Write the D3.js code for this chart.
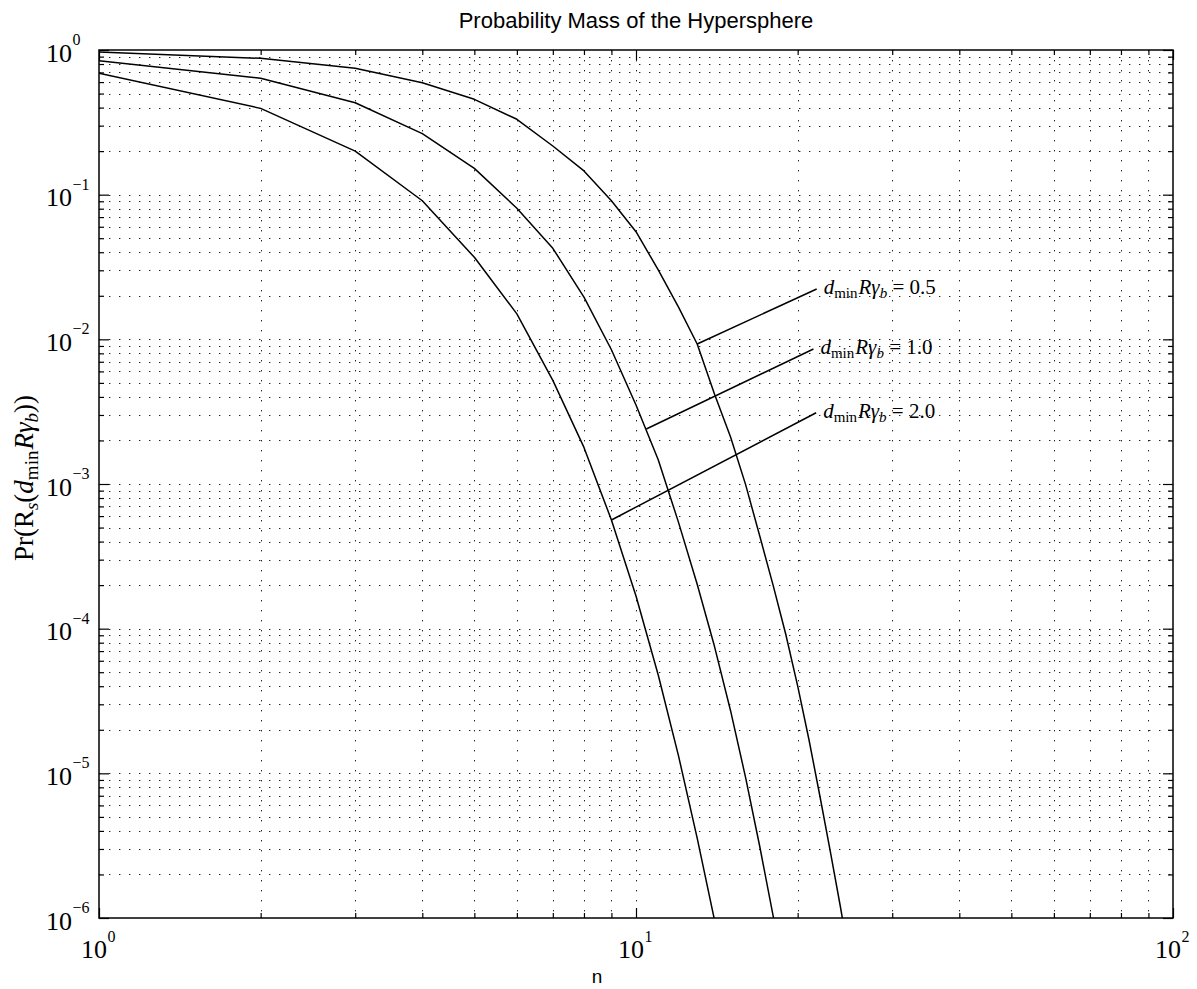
<!DOCTYPE html>
<html><head><meta charset="utf-8">
<script src="https://cdn.jsdelivr.net/npm/d3@7"></script>
<style>body{margin:0;background:#fff}svg{display:block}</style>
</head><body>
<svg id="chart" width="1197" height="989"></svg>
<script>
// ---- data ----
const nValues = [1,2,3,4,5,6,7,8,9,10,11,12,13,14,15,16,17,18,19,20,21,22,23,24,25];
const prob05 = [0.969,0.876,0.747,0.594,0.456,0.332,0.217,0.146,0.0908,0.0555,0.0302,0.0167,0.00928,0.00419,0.00211,9.9e-4,4.37e-4,2.0e-4,9.19e-5,4.02e-5,1.70e-5,6.97e-6,2.9e-6,1.22e-6,5.1e-7];
const prob10 = [0.843,0.637,0.432,0.264,0.152,0.0805,0.0426,0.0196,0.00847,0.00352,1.47e-3,5.43e-4,2.03e-4,7.55e-5,2.71e-5,9.35e-6,3.12e-6,1.04e-6,3.44e-7];
const prob20 = [0.69,0.395,0.2,0.0908,0.0369,0.015,0.0052,0.00179,5.64e-4,1.68e-4,4.78e-5,1.32e-5,3.57e-6,9.7e-7,2.63e-7];
const seriesValues = ["0.5","1.0","2.0"];
const labelAnchorN = [13, 10.45, 9];
const labelAnchorP = [0.00928, 0.0024, 0.000564];
const labelEndN = [21.7, 21.4, 21.65];
const labelEndP = [0.0223, 0.00857, 0.00311];
const xTickExponents = [0,1,2];
const yTickExponents = [0,-1,-2,-3,-4,-5,-6];
const titleText = "Probability Mass of the Hypersphere";
const xLabelText = "n";

// ---- layout ----
const L = 99, R = 1173, T = 50, B = 918;
const x = d3.scaleLog().domain([1,100]).range([L,R]);
const y = d3.scaleLog().domain([1e-6,1]).range([B,T]);
const svg = d3.select("#chart");
const serif = "'Liberation Serif','Times New Roman',serif";
const sans = "'Liberation Sans',Arial,sans-serif";

// tick values
const xMajor = xTickExponents.map(e => Math.pow(10,e));
const xMinor = [];
for (let d=0; d<2; d++) for (let k=2;k<=9;k++) xMinor.push(k*Math.pow(10,d));
const yMajor = yTickExponents.map(e => Math.pow(10,e));
const yMinor = [];
for (let d=-6; d<0; d++) for (let k=2;k<=9;k++) yMinor.push(k*Math.pow(10,d));

// ---- grid ----
const grid = svg.append("g").attr("stroke","#222").attr("stroke-width",1)
  .attr("stroke-dasharray","1.4,8.6");
grid.selectAll("line.gx").data(xMajor.concat(xMinor).filter(v=>v>1&&v<100)).join("line")
  .attr("x1",d=>Math.round(x(d))+0.5).attr("x2",d=>Math.round(x(d))+0.5)
  .attr("y1",T).attr("y2",B);
grid.selectAll("line.gy").data(yMajor.concat(yMinor).filter(v=>v>1e-6&&v<1)).join("line")
  .attr("class","gy")
  .attr("y1",d=>Math.round(y(d))+0.5).attr("y2",d=>Math.round(y(d))+0.5)
  .attr("x1",L).attr("x2",R);

// ---- ticks (inside, all four sides) ----
function addAxis(axisFn, scale, vals, size, transform){
  const g = svg.append("g").attr("transform",transform)
    .call(axisFn(scale).tickValues(vals).tickSize(size).tickFormat(""));
  g.select(".domain").remove();
  g.selectAll(".tick line").attr("stroke","#000").attr("stroke-width",1.2);
}
addAxis(d3.axisTop, x, xMajor, 10, `translate(0,${B})`);
addAxis(d3.axisTop, x, xMinor, 5, `translate(0,${B})`);
addAxis(d3.axisBottom, x, xMajor, 10, `translate(0,${T})`);
addAxis(d3.axisBottom, x, xMinor, 5, `translate(0,${T})`);
addAxis(d3.axisRight, y, yMajor, 10, `translate(${L},0)`);
addAxis(d3.axisRight, y, yMinor, 5, `translate(${L},0)`);
addAxis(d3.axisLeft, y, yMajor, 10, `translate(${R},0)`);
addAxis(d3.axisLeft, y, yMinor, 5, `translate(${R},0)`);

// box
svg.append("rect").attr("x",L).attr("y",T).attr("width",R-L).attr("height",B-T)
  .attr("fill","none").attr("stroke","#000").attr("stroke-width",1.5);

// ---- curves ----
svg.append("clipPath").attr("id","clip").append("rect")
  .attr("x",L).attr("y",T).attr("width",R-L).attr("height",B-T);
const line = d3.line().x(d=>x(d[0])).y(d=>y(d[1]));
const curves = [prob05, prob10, prob20];
svg.append("g").attr("clip-path","url(#clip)")
  .selectAll("path").data(curves).join("path")
  .attr("d", vals => line(vals.map((v,i)=>[nValues[i], v])))
  .attr("fill","none").attr("stroke","#000").attr("stroke-width",1.5)
  .attr("stroke-linejoin","round");

// ---- annotation lines + labels ----
const ann = svg.append("g");
seriesValues.forEach((s,i)=>{
  ann.append("line")
    .attr("x1",x(labelAnchorN[i])).attr("y1",y(labelAnchorP[i]))
    .attr("x2",x(labelEndN[i])).attr("y2",y(labelEndP[i]))
    .attr("stroke","#000").attr("stroke-width",1.5);
  const t = ann.append("text").attr("x",x(labelEndN[i])+7).attr("y",y(labelEndP[i])+5)
    .attr("font-family",serif).attr("font-size",21).attr("fill","#000");
  t.append("tspan").attr("font-style","italic").text("d");
  t.append("tspan").attr("font-size",15).attr("dy",4).text("min");
  t.append("tspan").attr("font-style","italic").attr("dy",-4).attr("dx",1).text("R");
  t.append("tspan").attr("font-style","italic").text("γ");
  t.append("tspan").attr("font-style","italic").attr("font-size",15).attr("dy",4).text("b");
  t.append("tspan").attr("dy",-4).text(" = " + s);
});

// ---- tick labels ----
const minus = e => (e<0 ? "\u2212"+(-e) : ""+e);
const yl = svg.append("g").attr("font-family",serif).attr("fill","#000");
yTickExponents.forEach(e=>{
  const py = y(Math.pow(10,e));
  yl.append("text").attr("x",72).attr("y",py+11.5).attr("text-anchor","end")
    .attr("font-size",26).text("10");
  yl.append("text").attr("x",72.5).attr("y",py-5).attr("font-size",16).text(minus(e));
});
const xl = svg.append("g").attr("font-family",serif).attr("fill","#000");
xTickExponents.forEach(e=>{
  const px = x(Math.pow(10,e));
  xl.append("text").attr("x",px+8).attr("y",958).attr("text-anchor","end")
    .attr("font-size",26).text("10");
  xl.append("text").attr("x",px+8.5).attr("y",942).attr("font-size",16).text(minus(e));
});

// ---- titles ----
svg.append("text").attr("x",(L+R)/2).attr("y",28).attr("text-anchor","middle")
  .attr("font-family",sans).attr("font-size",22).attr("fill","#000").text(titleText);
svg.append("text").attr("x",597).attr("y",983).attr("text-anchor","middle")
  .attr("font-family",sans).attr("font-size",19).attr("fill","#000").text(xLabelText);

// y label
const ylab = svg.append("text").attr("transform","translate(33,478) rotate(-90)")
  .attr("text-anchor","middle").attr("font-family",serif).attr("font-size",27).attr("fill","#000");
ylab.append("tspan").text("Pr(R");
ylab.append("tspan").attr("font-style","italic").attr("font-size",19).attr("dy",5).text("s");
ylab.append("tspan").attr("dy",-5).text("(");
ylab.append("tspan").attr("font-style","italic").text("d");
ylab.append("tspan").attr("font-size",19).attr("dy",5).text("min");
ylab.append("tspan").attr("font-style","italic").attr("dy",-5).attr("dx",1).text("R");
ylab.append("tspan").attr("font-style","italic").text("γ");
ylab.append("tspan").attr("font-style","italic").attr("font-size",19).attr("dy",5).text("b");
ylab.append("tspan").attr("dy",-5).text("))");
</script>
</body></html>
